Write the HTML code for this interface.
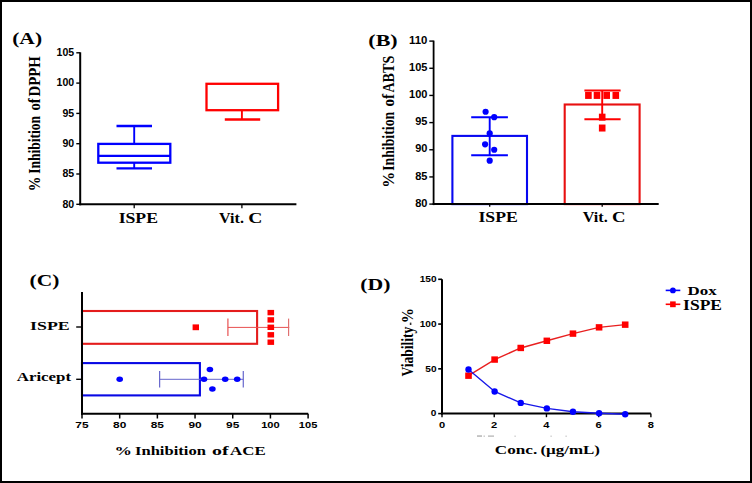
<!DOCTYPE html>
<html><head><meta charset="utf-8"><style>
html,body{margin:0;padding:0;background:#fff;}
.wrap{position:relative;width:752px;height:483px;overflow:hidden;background:#fff;}
.frame{position:absolute;left:0;top:0;width:748px;height:479px;border:2px solid #000;}
svg{position:absolute;left:0;top:0;}
</style></head><body><div class="wrap"><svg width="752" height="483" viewBox="0 0 752 483">
<rect x="98.3" y="143.9" width="72" height="18.8" fill="none" stroke="#0000FF" stroke-width="2.3"/>
<line x1="98.3" y1="155.8" x2="170.3" y2="155.8" stroke="#0000FF" stroke-width="2.3"/>
<line x1="134.2" y1="126" x2="134.2" y2="143.9" stroke="#0000FF" stroke-width="1.9"/>
<line x1="134.2" y1="162.7" x2="134.2" y2="168.3" stroke="#0000FF" stroke-width="1.9"/>
<line x1="116.5" y1="126" x2="152" y2="126" stroke="#0000FF" stroke-width="2.3"/>
<line x1="116.5" y1="168.3" x2="152" y2="168.3" stroke="#0000FF" stroke-width="2.3"/>
<rect x="206.5" y="83.8" width="71.6" height="26.4" fill="none" stroke="#FF0000" stroke-width="2.3"/>
<line x1="241.9" y1="110.2" x2="241.9" y2="119.5" stroke="#FF0000" stroke-width="1.9"/>
<line x1="224.8" y1="119.5" x2="260.2" y2="119.5" stroke="#FF0000" stroke-width="2.3"/>
<line x1="80.2" y1="52.3" x2="80.2" y2="205.3" stroke="#000" stroke-width="2"/>
<line x1="79.2" y1="204.3" x2="296.4" y2="204.3" stroke="#000" stroke-width="2"/>
<g stroke="none">
<line x1="76.3" y1="204.3" x2="80.2" y2="204.3" stroke="#000" stroke-width="1.4"/>
<text x="74.23" y="207.6" font-family="Liberation Sans" font-weight="bold" font-size="10.3" text-anchor="end" textLength="11.74" lengthAdjust="spacingAndGlyphs">80</text>
<line x1="76.3" y1="174" x2="80.2" y2="174" stroke="#000" stroke-width="1.4"/>
<text x="74.23" y="177.3" font-family="Liberation Sans" font-weight="bold" font-size="10.3" text-anchor="end" textLength="11.74" lengthAdjust="spacingAndGlyphs">85</text>
<line x1="76.3" y1="143.7" x2="80.2" y2="143.7" stroke="#000" stroke-width="1.4"/>
<text x="74.23" y="147" font-family="Liberation Sans" font-weight="bold" font-size="10.3" text-anchor="end" textLength="11.74" lengthAdjust="spacingAndGlyphs">90</text>
<line x1="76.3" y1="113.4" x2="80.2" y2="113.4" stroke="#000" stroke-width="1.4"/>
<text x="74.23" y="116.7" font-family="Liberation Sans" font-weight="bold" font-size="10.3" text-anchor="end" textLength="11.74" lengthAdjust="spacingAndGlyphs">95</text>
<line x1="76.3" y1="83.1" x2="80.2" y2="83.1" stroke="#000" stroke-width="1.4"/>
<text x="74.23" y="86.4" font-family="Liberation Sans" font-weight="bold" font-size="10.3" text-anchor="end" textLength="17.61" lengthAdjust="spacingAndGlyphs">100</text>
<line x1="76.3" y1="52.8" x2="80.2" y2="52.8" stroke="#000" stroke-width="1.4"/>
<text x="74.23" y="56.1" font-family="Liberation Sans" font-weight="bold" font-size="10.3" text-anchor="end" textLength="17.61" lengthAdjust="spacingAndGlyphs">105</text>
</g>
<line x1="134.2" y1="204.3" x2="134.2" y2="208.3" stroke="#000" stroke-width="1.3"/>
<line x1="241.9" y1="204.3" x2="241.9" y2="208.3" stroke="#000" stroke-width="1.3"/>
<rect x="452.4" y="135.9" width="74.6" height="68.2" fill="none" stroke="#0808F0" stroke-width="2.1"/>
<line x1="489.7" y1="117.17" x2="489.7" y2="155.2" stroke="#0000FF" stroke-width="1.9"/>
<line x1="471.2" y1="117.17" x2="507.9" y2="117.17" stroke="#0000FF" stroke-width="2"/>
<line x1="471.2" y1="155.2" x2="507.9" y2="155.2" stroke="#0000FF" stroke-width="2"/>
<circle cx="485.6" cy="111.73" r="3.1" fill="#0000FF"/>
<circle cx="494.2" cy="117.17" r="3.1" fill="#0000FF"/>
<circle cx="489.7" cy="133.47" r="3.1" fill="#0000FF"/>
<circle cx="485.1" cy="144.33" r="3.1" fill="#0000FF"/>
<circle cx="494.2" cy="149.77" r="3.1" fill="#0000FF"/>
<circle cx="489.7" cy="160.63" r="3.1" fill="#0000FF"/>
<rect x="564.7" y="104.5" width="74.9" height="99.6" fill="none" stroke="#E81010" stroke-width="2.1"/>
<line x1="602.2" y1="90.54" x2="602.2" y2="119.34" stroke="#FF0000" stroke-width="1.9"/>
<line x1="584.4" y1="90.54" x2="620.6" y2="90.54" stroke="#FF0000" stroke-width="2"/>
<line x1="584.4" y1="119.34" x2="620.6" y2="119.34" stroke="#FF0000" stroke-width="2"/>
<rect x="585.1" y="91.93" width="6.6" height="7.0" fill="#FF0000"/>
<rect x="593.7" y="91.93" width="6.6" height="7.0" fill="#FF0000"/>
<rect x="603.4" y="91.93" width="6.6" height="7.0" fill="#FF0000"/>
<rect x="612.5" y="91.93" width="6.6" height="7.0" fill="#FF0000"/>
<rect x="598.9" y="113.67" width="6.6" height="7.0" fill="#FF0000"/>
<rect x="598.9" y="124.53" width="6.6" height="7.0" fill="#FF0000"/>
<line x1="433.6" y1="40.6" x2="433.6" y2="205.1" stroke="#000" stroke-width="1.8"/>
<line x1="432.6" y1="204.1" x2="658.7" y2="204.1" stroke="#000" stroke-width="2"/>
<g stroke="none">
<line x1="429.3" y1="204.1" x2="433.6" y2="204.1" stroke="#000" stroke-width="1.4"/>
<text x="427.43" y="206.7" font-family="Liberation Sans" font-weight="bold" font-size="11.0" text-anchor="end" textLength="12.24" lengthAdjust="spacingAndGlyphs">80</text>
<line x1="429.3" y1="176.93" x2="433.6" y2="176.93" stroke="#000" stroke-width="1.4"/>
<text x="427.43" y="179.53" font-family="Liberation Sans" font-weight="bold" font-size="11.0" text-anchor="end" textLength="12.24" lengthAdjust="spacingAndGlyphs">85</text>
<line x1="429.3" y1="149.77" x2="433.6" y2="149.77" stroke="#000" stroke-width="1.4"/>
<text x="427.43" y="152.37" font-family="Liberation Sans" font-weight="bold" font-size="11.0" text-anchor="end" textLength="12.24" lengthAdjust="spacingAndGlyphs">90</text>
<line x1="429.3" y1="122.6" x2="433.6" y2="122.6" stroke="#000" stroke-width="1.4"/>
<text x="427.43" y="125.2" font-family="Liberation Sans" font-weight="bold" font-size="11.0" text-anchor="end" textLength="12.24" lengthAdjust="spacingAndGlyphs">95</text>
<line x1="429.3" y1="95.43" x2="433.6" y2="95.43" stroke="#000" stroke-width="1.4"/>
<text x="427.43" y="98.03" font-family="Liberation Sans" font-weight="bold" font-size="11.0" text-anchor="end" textLength="18.36" lengthAdjust="spacingAndGlyphs">100</text>
<line x1="429.3" y1="68.27" x2="433.6" y2="68.27" stroke="#000" stroke-width="1.4"/>
<text x="427.43" y="70.87" font-family="Liberation Sans" font-weight="bold" font-size="11.0" text-anchor="end" textLength="18.36" lengthAdjust="spacingAndGlyphs">105</text>
<line x1="429.3" y1="41.1" x2="433.6" y2="41.1" stroke="#000" stroke-width="1.4"/>
<text x="427.43" y="43.7" font-family="Liberation Sans" font-weight="bold" font-size="11.0" text-anchor="end" textLength="18.36" lengthAdjust="spacingAndGlyphs">110</text>
</g>
<line x1="489.7" y1="204.1" x2="489.7" y2="206.8" stroke="#000" stroke-width="1.3"/>
<line x1="602.2" y1="204.1" x2="602.2" y2="206.8" stroke="#000" stroke-width="1.3"/>
<rect x="82" y="311" width="175.1" height="32.8" fill="none" stroke="#E41C1C" stroke-width="2.1"/>
<rect x="82" y="363.1" width="117.9" height="32.3" fill="none" stroke="#0808E4" stroke-width="2.1"/>
<line x1="227.91" y1="327.4" x2="289.26" y2="327.4" stroke="#E85050" stroke-width="1"/>
<line x1="227.91" y1="318.6" x2="227.91" y2="336" stroke="#E85050" stroke-width="1.2"/>
<line x1="288.58" y1="318.6" x2="288.58" y2="336" stroke="#E07070" stroke-width="1.2"/>
<rect x="192.6" y="324.4" width="6.4" height="5.8" fill="#FF0000"/>
<rect x="267.5" y="309.9" width="6.6" height="5.4" fill="#FF0000"/>
<rect x="267.5" y="317.2" width="6.6" height="5.4" fill="#FF0000"/>
<rect x="267.5" y="324.6" width="6.6" height="5.4" fill="#FF0000"/>
<rect x="267.5" y="332.1" width="6.6" height="5.4" fill="#FF0000"/>
<rect x="267.5" y="339.5" width="6.6" height="5.4" fill="#FF0000"/>
<line x1="159.63" y1="379.3" x2="243.28" y2="379.3" stroke="#6666CC" stroke-width="1"/>
<line x1="159.63" y1="371" x2="159.63" y2="387.6" stroke="#6666CC" stroke-width="1.2"/>
<line x1="243.28" y1="371" x2="243.28" y2="387.6" stroke="#6666CC" stroke-width="1.2"/>
<ellipse cx="119.7" cy="379.3" rx="3.3" ry="2.7" fill="#0000FF"/>
<ellipse cx="209.9" cy="369.5" rx="3.3" ry="2.7" fill="#0000FF"/>
<ellipse cx="204" cy="379.3" rx="3.3" ry="2.7" fill="#0000FF"/>
<ellipse cx="225.2" cy="379.3" rx="3.3" ry="2.7" fill="#0000FF"/>
<ellipse cx="237.2" cy="379.3" rx="3.3" ry="2.7" fill="#0000FF"/>
<ellipse cx="212.4" cy="389" rx="3.3" ry="2.7" fill="#0000FF"/>
<line x1="82" y1="291.9" x2="82" y2="414.7" stroke="#000" stroke-width="2"/>
<line x1="81" y1="413.7" x2="308.2" y2="413.7" stroke="#000" stroke-width="2"/>
<g stroke="none">
<line x1="82" y1="413.7" x2="82" y2="418.5" stroke="#000" stroke-width="1.5"/>
<text x="82" y="428.45" font-family="Liberation Sans" font-weight="bold" font-size="8.9" text-anchor="middle" textLength="13.23" lengthAdjust="spacingAndGlyphs">75</text>
<line x1="119.68" y1="413.7" x2="119.68" y2="418.5" stroke="#000" stroke-width="1.5"/>
<text x="119.68" y="428.45" font-family="Liberation Sans" font-weight="bold" font-size="8.9" text-anchor="middle" textLength="13.23" lengthAdjust="spacingAndGlyphs">80</text>
<line x1="157.37" y1="413.7" x2="157.37" y2="418.5" stroke="#000" stroke-width="1.5"/>
<text x="157.37" y="428.45" font-family="Liberation Sans" font-weight="bold" font-size="8.9" text-anchor="middle" textLength="13.23" lengthAdjust="spacingAndGlyphs">85</text>
<line x1="195.05" y1="413.7" x2="195.05" y2="418.5" stroke="#000" stroke-width="1.5"/>
<text x="195.05" y="428.45" font-family="Liberation Sans" font-weight="bold" font-size="8.9" text-anchor="middle" textLength="13.23" lengthAdjust="spacingAndGlyphs">90</text>
<line x1="232.73" y1="413.7" x2="232.73" y2="418.5" stroke="#000" stroke-width="1.5"/>
<text x="232.73" y="428.45" font-family="Liberation Sans" font-weight="bold" font-size="8.9" text-anchor="middle" textLength="13.23" lengthAdjust="spacingAndGlyphs">95</text>
<line x1="270.42" y1="413.7" x2="270.42" y2="418.5" stroke="#000" stroke-width="1.5"/>
<text x="270.42" y="428.45" font-family="Liberation Sans" font-weight="bold" font-size="8.9" text-anchor="middle" textLength="18.52" lengthAdjust="spacingAndGlyphs">100</text>
<line x1="308.1" y1="413.7" x2="308.1" y2="418.5" stroke="#000" stroke-width="1.5"/>
<text x="308.1" y="428.45" font-family="Liberation Sans" font-weight="bold" font-size="8.9" text-anchor="middle" textLength="18.52" lengthAdjust="spacingAndGlyphs">105</text>
</g>
<line x1="76.2" y1="327" x2="82" y2="327" stroke="#000" stroke-width="1.4"/>
<line x1="76.2" y1="379.3" x2="82" y2="379.3" stroke="#000" stroke-width="1.4"/>
<line x1="442" y1="279.3" x2="442" y2="414.6" stroke="#000" stroke-width="2"/>
<line x1="441" y1="413.6" x2="650.9" y2="413.6" stroke="#000" stroke-width="2"/>
<g stroke="none">
<line x1="438.2" y1="413.6" x2="442" y2="413.6" stroke="#000" stroke-width="1.6"/>
<text x="436.49" y="416.4" font-family="Liberation Sans" font-weight="bold" font-size="9.4" text-anchor="end" textLength="5.6" lengthAdjust="spacingAndGlyphs">0</text>
<line x1="438.2" y1="368.83" x2="442" y2="368.83" stroke="#000" stroke-width="1.6"/>
<text x="436.49" y="371.63" font-family="Liberation Sans" font-weight="bold" font-size="9.4" text-anchor="end" textLength="11.2" lengthAdjust="spacingAndGlyphs">50</text>
<line x1="438.2" y1="324.07" x2="442" y2="324.07" stroke="#000" stroke-width="1.6"/>
<text x="436.49" y="326.87" font-family="Liberation Sans" font-weight="bold" font-size="9.4" text-anchor="end" textLength="16.8" lengthAdjust="spacingAndGlyphs">100</text>
<line x1="438.2" y1="279.3" x2="442" y2="279.3" stroke="#000" stroke-width="1.6"/>
<text x="436.49" y="282.1" font-family="Liberation Sans" font-weight="bold" font-size="9.4" text-anchor="end" textLength="16.8" lengthAdjust="spacingAndGlyphs">150</text>
<line x1="442" y1="413.6" x2="442" y2="417.2" stroke="#000" stroke-width="1.4"/>
<text x="442" y="427.5" font-family="Liberation Sans" font-weight="bold" font-size="9.0" text-anchor="middle" textLength="6.2" lengthAdjust="spacingAndGlyphs">0</text>
<line x1="494.23" y1="413.6" x2="494.23" y2="417.2" stroke="#000" stroke-width="1.4"/>
<text x="494.23" y="427.5" font-family="Liberation Sans" font-weight="bold" font-size="9.0" text-anchor="middle" textLength="6.2" lengthAdjust="spacingAndGlyphs">2</text>
<line x1="546.45" y1="413.6" x2="546.45" y2="417.2" stroke="#000" stroke-width="1.4"/>
<text x="546.45" y="427.5" font-family="Liberation Sans" font-weight="bold" font-size="9.0" text-anchor="middle" textLength="6.2" lengthAdjust="spacingAndGlyphs">4</text>
<line x1="598.67" y1="413.6" x2="598.67" y2="417.2" stroke="#000" stroke-width="1.4"/>
<text x="598.67" y="427.5" font-family="Liberation Sans" font-weight="bold" font-size="9.0" text-anchor="middle" textLength="6.2" lengthAdjust="spacingAndGlyphs">6</text>
<line x1="650.9" y1="413.6" x2="650.9" y2="417.2" stroke="#000" stroke-width="1.4"/>
<text x="650.9" y="427.5" font-family="Liberation Sans" font-weight="bold" font-size="9.0" text-anchor="middle" textLength="6.2" lengthAdjust="spacingAndGlyphs">8</text>
</g>
<polyline points="468.51,375.70 494.62,359.58 520.74,347.95 546.85,340.78 572.96,333.62 599.07,327.35 625.19,324.67" fill="none" stroke="#E82020" stroke-width="1.4"/>
<polyline points="468.51,369.43 494.62,391.46 520.74,402.92 546.85,408.38 572.96,411.69 599.07,413.22 625.19,414.20" fill="none" stroke="#1818E8" stroke-width="1.4"/>
<rect x="465.21" y="372.5" width="6.6" height="6.4" fill="#FF0000"/>
<rect x="491.32" y="356.38" width="6.6" height="6.4" fill="#FF0000"/>
<rect x="517.44" y="344.75" width="6.6" height="6.4" fill="#FF0000"/>
<rect x="543.55" y="337.58" width="6.6" height="6.4" fill="#FF0000"/>
<rect x="569.66" y="330.42" width="6.6" height="6.4" fill="#FF0000"/>
<rect x="595.77" y="324.15" width="6.6" height="6.4" fill="#FF0000"/>
<rect x="621.89" y="321.47" width="6.6" height="6.4" fill="#FF0000"/>
<circle cx="468.51" cy="369.43" r="3.2" fill="#0000FF"/>
<circle cx="494.62" cy="391.46" r="3.2" fill="#0000FF"/>
<circle cx="520.74" cy="402.92" r="3.2" fill="#0000FF"/>
<circle cx="546.85" cy="408.38" r="3.2" fill="#0000FF"/>
<circle cx="572.96" cy="411.69" r="3.2" fill="#0000FF"/>
<circle cx="599.07" cy="413.22" r="3.2" fill="#0000FF"/>
<circle cx="625.19" cy="414.2" r="3.2" fill="#0000FF"/>
<line x1="665.7" y1="290.4" x2="680.3" y2="290.4" stroke="#0000FF" stroke-width="1.6"/>
<circle cx="672.9" cy="290.4" r="2.9" fill="#0000FF"/>
<line x1="665.7" y1="304.3" x2="680.3" y2="304.3" stroke="#FF0000" stroke-width="1.6"/>
<rect x="670.1" y="301.4" width="5.6" height="5.8" fill="#FF0000"/>
<rect x="477" y="435.4" width="5" height="1.3" fill="#aaa"/><rect x="483.5" y="435.6" width="1.5" height="1.1" fill="#bbb"/><rect x="488" y="435.5" width="6" height="1.2" fill="#b0b0b0"/>
<rect x="514.5" y="435.6" width="1.2" height="1.2" fill="#bbb"/>
<rect x="550.5" y="435.6" width="1.2" height="1.2" fill="#bbb"/>
<rect x="565.5" y="435.6" width="1.2" height="1.2" fill="#bbb"/>
<g stroke="none">
<text x="12.200" y="43.800" font-family="Liberation Serif" font-weight="bold" font-size="17.600" textLength="29.869" lengthAdjust="spacingAndGlyphs">(A)</text>
<text x="368.350" y="45.600" font-family="Liberation Serif" font-weight="bold" font-size="16.800" textLength="29.371" lengthAdjust="spacingAndGlyphs">(B)</text>
<text x="29.550" y="286.200" font-family="Liberation Serif" font-weight="bold" font-size="17.400" textLength="29.869" lengthAdjust="spacingAndGlyphs">(C)</text>
<text x="360.200" y="290.400" font-family="Liberation Serif" font-weight="bold" font-size="16.800" textLength="30.223" lengthAdjust="spacingAndGlyphs">(D)</text>
<text x="118.650" y="223.200" font-family="Liberation Serif" font-weight="bold" font-size="13.700" textLength="39.356" lengthAdjust="spacingAndGlyphs">ISPE</text>
<text x="219.100" y="223.200" font-family="Liberation Serif" font-weight="bold" font-size="13.700" textLength="24.837" lengthAdjust="spacingAndGlyphs">Vit.</text>
<text x="248.150" y="223.200" font-family="Liberation Serif" font-weight="bold" font-size="13.700" textLength="14.168" lengthAdjust="spacingAndGlyphs">C</text>
<text x="478.450" y="222.000" font-family="Liberation Serif" font-weight="bold" font-size="14.200" textLength="39.371" lengthAdjust="spacingAndGlyphs">ISPE</text>
<text x="582.750" y="221.800" font-family="Liberation Serif" font-weight="bold" font-size="14.200" textLength="25.043" lengthAdjust="spacingAndGlyphs">Vit.</text>
<text x="612.050" y="221.800" font-family="Liberation Serif" font-weight="bold" font-size="14.200" textLength="13.507" lengthAdjust="spacingAndGlyphs">C</text>
<text x="30.100" y="329.800" font-family="Liberation Serif" font-weight="bold" font-size="13.100" textLength="39.563" lengthAdjust="spacingAndGlyphs">ISPE</text>
<text x="16.800" y="380.800" font-family="Liberation Serif" font-weight="bold" font-size="13.300" textLength="54.251" lengthAdjust="spacingAndGlyphs">Aricept</text>
<text x="114.550" y="454.900" font-family="Liberation Serif" font-weight="bold" font-size="13.300" textLength="17.422" lengthAdjust="spacingAndGlyphs">%</text>
<text x="135.000" y="454.900" font-family="Liberation Serif" font-weight="bold" font-size="13.300" textLength="70.907" lengthAdjust="spacingAndGlyphs">Inhibition</text>
<text x="212.050" y="454.900" font-family="Liberation Serif" font-weight="bold" font-size="13.300" textLength="16.576" lengthAdjust="spacingAndGlyphs">of</text>
<text x="230.100" y="454.900" font-family="Liberation Serif" font-weight="bold" font-size="13.300" textLength="35.591" lengthAdjust="spacingAndGlyphs">ACE</text>
<text x="494.850" y="453.500" font-family="Liberation Serif" font-weight="bold" font-size="13.100" textLength="42.423" lengthAdjust="spacingAndGlyphs">Conc.</text>
<text x="540.400" y="453.500" font-family="Liberation Serif" font-weight="bold" font-size="13.100" textLength="59.541" lengthAdjust="spacingAndGlyphs">(µg/mL)</text>
<text x="687.600" y="294.700" font-family="Liberation Serif" font-weight="bold" font-size="13.000" textLength="29.156" lengthAdjust="spacingAndGlyphs">Dox</text>
<text x="683.100" y="309.600" font-family="Liberation Serif" font-weight="bold" font-size="13.900" textLength="38.920" lengthAdjust="spacingAndGlyphs">ISPE</text>
<text x="40.200" y="191.300" font-family="Liberation Serif" font-weight="bold" font-size="16.600" textLength="14.659" lengthAdjust="spacingAndGlyphs" transform="rotate(-90 40.200 191.300)">%</text>
<text x="40.200" y="173.800" font-family="Liberation Serif" font-weight="bold" font-size="16.600" textLength="57.857" lengthAdjust="spacingAndGlyphs" transform="rotate(-90 40.200 173.800)">Inhibition</text>
<text x="40.200" y="110.550" font-family="Liberation Serif" font-weight="bold" font-size="16.600" textLength="12.224" lengthAdjust="spacingAndGlyphs" transform="rotate(-90 40.200 110.550)">of</text>
<text x="40.200" y="96.550" font-family="Liberation Serif" font-weight="bold" font-size="16.600" textLength="40.305" lengthAdjust="spacingAndGlyphs" transform="rotate(-90 40.200 96.550)">DPPH</text>
<text x="393.900" y="187.750" font-family="Liberation Serif" font-weight="bold" font-size="16.500" textLength="15.987" lengthAdjust="spacingAndGlyphs" transform="rotate(-90 393.900 187.750)">%</text>
<text x="393.900" y="170.850" font-family="Liberation Serif" font-weight="bold" font-size="16.500" textLength="59.062" lengthAdjust="spacingAndGlyphs" transform="rotate(-90 393.900 170.850)">Inhibition</text>
<text x="393.900" y="106.400" font-family="Liberation Serif" font-weight="bold" font-size="16.500" textLength="12.522" lengthAdjust="spacingAndGlyphs" transform="rotate(-90 393.900 106.400)">of</text>
<text x="393.900" y="92.550" font-family="Liberation Serif" font-weight="bold" font-size="16.500" textLength="36.821" lengthAdjust="spacingAndGlyphs" transform="rotate(-90 393.900 92.550)">ABTS</text>
<text x="412.800" y="323.200" font-family="Liberation Serif" font-weight="bold" font-size="16.500" textLength="15.171" lengthAdjust="spacingAndGlyphs" transform="rotate(-90 412.800 323.200)">%</text>
<text x="412.800" y="376.550" font-family="Liberation Serif" font-weight="bold" font-size="16.500" textLength="49.903" lengthAdjust="spacingAndGlyphs" transform="rotate(-90 412.800 376.550)">Viability</text>
<rect x="409.8" y="322.6" width="1.6" height="2.4" fill="#333"/>
</g>
</svg><div class="frame"></div></div></body></html>
